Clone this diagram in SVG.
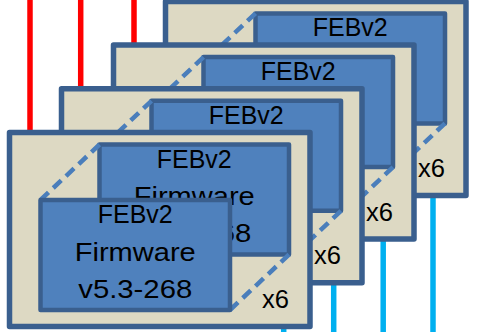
<svg xmlns="http://www.w3.org/2000/svg" width="481" height="332" viewBox="0 0 481 332">
<style>
.board{fill:#DDD9C3;stroke:#3A5F8E;stroke-width:5.5;stroke-linejoin:round}
.box{fill:#4F81BD;stroke:#3A5F8E;stroke-width:4.5;stroke-linejoin:round}
.dash{stroke:#4A7EBB;stroke-width:4.5;stroke-dasharray:11 6.5;fill:none}
.t{font-family:"Liberation Sans",Arial,sans-serif;font-size:26px;fill:#000;text-anchor:middle}
.x6{font-family:"Liberation Sans",Arial,sans-serif;font-size:26px;fill:#000}
.red{stroke:#FF0000;stroke-width:5.5}
.cyan{stroke:#00B0F0;stroke-width:5.5}
</style>
<g id="connectors">
<line class="red" x1="30" y1="0" x2="30" y2="132"/>
<line class="red" x1="80.7" y1="0" x2="80.7" y2="89"/>
<line class="red" x1="134" y1="0" x2="134" y2="46"/>
<line class="cyan" x1="283.7" y1="326" x2="283.7" y2="332"/>
<line class="cyan" x1="333.7" y1="282" x2="333.7" y2="332"/>
<line class="cyan" x1="383.2" y1="238" x2="383.2" y2="332"/>
<line class="cyan" x1="433" y1="195" x2="433" y2="332"/>
</g>
<g id="board4" transform="translate(156,-131.1)">
<rect class="board" x="9.5" y="132.5" width="300.5" height="194"/>
<rect class="box" x="99.5" y="144.5" width="189.5" height="110"/>
<text class="t" x="194.25" y="167.5" textLength="75" lengthAdjust="spacingAndGlyphs">FEBv2</text>
<line class="dash" x1="99.5" y1="144.5" x2="40.5" y2="200"/>
<line class="dash" x1="289" y1="254.5" x2="230" y2="310"/>
<rect class="box" x="40.5" y="200" width="189.5" height="110"/>
<text class="x6" x="262" y="308" textLength="27" lengthAdjust="spacingAndGlyphs">x6</text>
</g>
<g id="board3" transform="translate(104,-87.4)">
<rect class="board" x="9.5" y="132.5" width="300.5" height="194"/>
<rect class="box" x="99.5" y="144.5" width="189.5" height="110"/>
<text class="t" x="194.25" y="167.5" textLength="75" lengthAdjust="spacingAndGlyphs">FEBv2</text>
<line class="dash" x1="99.5" y1="144.5" x2="40.5" y2="200"/>
<line class="dash" x1="289" y1="254.5" x2="230" y2="310"/>
<rect class="box" x="40.5" y="200" width="189.5" height="110"/>
<text class="x6" x="262" y="308" textLength="27" lengthAdjust="spacingAndGlyphs">x6</text>
</g>
<g id="board2" transform="translate(52,-43.7)">
<rect class="board" x="9.5" y="132.5" width="300.5" height="194"/>
<rect class="box" x="99.5" y="144.5" width="189.5" height="110"/>
<text class="t" x="194.25" y="167.5" textLength="75" lengthAdjust="spacingAndGlyphs">FEBv2</text>
<line class="dash" x1="99.5" y1="144.5" x2="40.5" y2="200"/>
<line class="dash" x1="289" y1="254.5" x2="230" y2="310"/>
<rect class="box" x="40.5" y="200" width="189.5" height="110"/>
<text class="x6" x="262" y="308" textLength="27" lengthAdjust="spacingAndGlyphs">x6</text>
</g>
<g id="board1">
<rect class="board" x="9.5" y="132.5" width="300.5" height="194"/>
<rect class="box" x="99.5" y="144.5" width="189.5" height="110"/>
<text class="t" x="194.25" y="167.5" textLength="75" lengthAdjust="spacingAndGlyphs">FEBv2</text>
<text class="t" x="194.25" y="204.5" textLength="121" lengthAdjust="spacingAndGlyphs">Firmware</text>
<text class="t" x="194.25" y="241.5" textLength="114" lengthAdjust="spacingAndGlyphs">v5.3-268</text>
<line class="dash" x1="99.5" y1="144.5" x2="40.5" y2="200"/>
<line class="dash" x1="289" y1="254.5" x2="230" y2="310"/>
<rect class="box" x="40.5" y="200" width="189.5" height="110"/>
<text class="t" x="135.25" y="223" textLength="75" lengthAdjust="spacingAndGlyphs">FEBv2</text>
<text class="t" x="135.25" y="260.5" textLength="121" lengthAdjust="spacingAndGlyphs">Firmware</text>
<text class="t" x="135.25" y="297.5" textLength="114" lengthAdjust="spacingAndGlyphs">v5.3-268</text>
<text class="x6" x="262" y="308" textLength="27" lengthAdjust="spacingAndGlyphs">x6</text>
</g>
</svg>
